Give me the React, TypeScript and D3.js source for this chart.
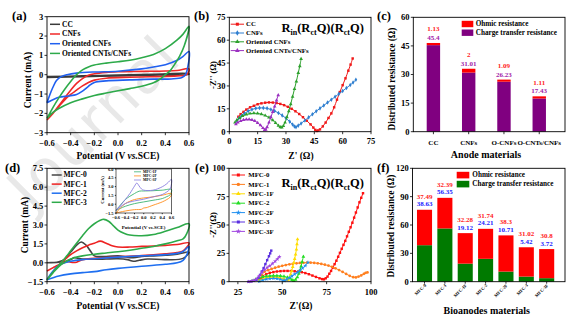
import React from 'react';
import * as d3 from 'd3';

type P = [number, number];
const FONT = '"Liberation Serif","Times New Roman",Times,serif';

// ---------------- (a) CV of anode materials ----------------
const aNames = ['CC', 'CNFs', 'Oriented CNFs', 'Oriented CNTs/CNFs'];
const aColors = ['#3a3a3a', '#f02828', '#2060f0', '#2daa4a'];
const aCC: P[] = [[-0.6, -0.1], [-0.3, -0.06], [0, -0.02], [0.3, 0.02], [0.6, 0.05], [0.6, 0.02], [0.3, -0.02], [0, -0.06], [-0.3, -0.1], [-0.6, -0.14]];
const aCNFs: P[] = [[-0.6, -2.34], [-0.55, -2.0], [-0.5, -1.6], [-0.45, -1.2], [-0.4, -0.8], [-0.35, -0.45], [-0.3, -0.2], [-0.25, -0.03], [-0.2, 0.05], [-0.1, 0.12], [0, 0.15], [0.2, 0.17], [0.4, 0.19], [0.5, 0.22], [0.6, 0.3],
  [0.58, 0.0], [0.5, -0.06], [0.3, -0.1], [0.1, -0.13], [-0.1, -0.18], [-0.2, -0.28], [-0.25, -0.4], [-0.3, -0.58], [-0.35, -0.8], [-0.4, -1.02], [-0.45, -1.3], [-0.5, -1.65], [-0.55, -2.0], [-0.6, -2.34]];
const aOCNFs: P[] = [[-0.6, -1.45], [-0.58, -1.1], [-0.55, -0.65], [-0.52, -0.3], [-0.48, -0.1], [-0.43, 0.0], [-0.35, 0.08], [-0.2, 0.14], [0, 0.18], [0.2, 0.3], [0.3, 0.4], [0.4, 0.52], [0.5, 0.75], [0.55, 0.95], [0.6, 1.2],
  [0.59, 0.4], [0.57, 0.0], [0.54, -0.15], [0.45, -0.22], [0.3, -0.23], [0.1, -0.27], [-0.1, -0.32], [-0.2, -0.4], [-0.25, -0.6], [-0.3, -0.85], [-0.35, -1.02], [-0.42, -1.1], [-0.5, -1.17], [-0.6, -1.45]];
const aOCNTs: P[] = [[-0.6, -2.26], [-0.55, -1.7], [-0.5, -1.2], [-0.45, -0.75], [-0.4, -0.35], [-0.35, 0.0], [-0.3, 0.25], [-0.25, 0.4], [-0.2, 0.5], [-0.1, 0.6], [0, 0.67], [0.1, 0.75], [0.2, 0.88], [0.3, 1.05], [0.4, 1.35], [0.5, 1.8], [0.55, 2.1], [0.6, 2.5],
  [0.56, 1.5], [0.52, 0.95], [0.48, 0.55], [0.44, 0.2], [0.4, 0.0], [0.35, -0.25], [0.3, -0.42], [0.2, -0.6], [0.1, -0.72], [0, -0.83], [-0.1, -0.95], [-0.2, -1.08], [-0.3, -1.25], [-0.4, -1.45], [-0.5, -1.75], [-0.55, -1.95], [-0.6, -2.26]];
const aXTicks = [-0.6, -0.4, -0.2, 0, 0.2, 0.4, 0.6];
const aYTicks = [-3, -2, -1, 0, 1, 2, 3];

// ---------------- (b) Nyquist of anode materials ----------------
const bNames = ['CC', 'CNFs', 'Oriented CNFs', 'Oriented CNTs/CNFs'];
const bColors = ['#f01818', '#2f7fd0', '#2ca02c', '#9b30c0'];
const bCC: P[] = [[4.8, 9.8], [6, 11.5], [7.5, 13], [9, 14.5], [11, 16], [13, 17], [15, 18], [17, 18.6], [19, 19], [21, 19.2], [23, 19.1], [25, 18.8], [27, 18.2], [29, 17.4], [31, 16.3], [33, 15], [35, 13.4], [37, 11.6], [39, 9.5], [41, 7.2], [43, 4.8], [44.5, 2.7], [45.5, 1.2], [46.3, 0.5], [47, 0.8], [48, 1.5], [49.5, 3.5], [51, 6], [52.5, 9], [54, 12], [55.5, 16], [57, 21], [58.5, 26], [60, 30.5], [61.5, 35], [63, 40], [64.2, 44], [65.3, 48]];
const bCNFs: P[] = [[4, 7.2], [5, 8.8], [6.5, 10.5], [8, 12], [10, 13.5], [12, 14.6], [14, 15.3], [16, 15.6], [18, 15.6], [20, 15.3], [22, 14.6], [24, 13.6], [26, 12.3], [28, 10.7], [30, 8.8], [32, 6.6], [33.5, 4.7], [34.5, 3.4], [35.3, 3], [36.5, 4], [38, 5.4], [40, 7.4], [42, 9.4], [44, 11.4], [46, 13.4], [48, 15.3], [50, 17.2], [52, 19.1], [54, 21], [56, 22.9], [58, 24.8], [60, 26.7], [62, 28.6], [64, 30.6], [65.5, 32.2], [67, 34]];
const bOCNFs: P[] = [[3, 6], [4, 7.5], [5.5, 9], [7, 10.3], [9, 11.3], [11, 11.9], [13, 12.1], [15, 12], [17, 11.5], [19, 10.6], [21, 9.3], [23, 7.6], [24.5, 5.8], [26, 4], [27, 3], [27.8, 2.8], [28.6, 3.8], [29.5, 6], [30.5, 9.5], [31.5, 13.5], [32.5, 18], [33.5, 23], [34.5, 28], [35.5, 33], [36.5, 38.5], [37.3, 43], [38, 47.7]];
const bOCNTs: P[] = [[3.5, 5], [4.5, 6], [6, 7], [7.5, 7.7], [9, 8], [10.5, 8.1], [12, 7.8], [13.5, 7], [15, 5.8], [16.5, 4.2], [17.8, 2.4], [18.7, 1.2], [19.3, 1.4], [20, 3], [21, 6], [22, 9.5], [23, 13], [24, 16.5], [25, 20.5], [25.9, 24]];
const bTicks = [0, 15, 30, 45, 60, 75];

// ---------------- (c) resistance of anode materials ----------------
const cCategories = ['CC', 'CNFs', 'O-CNFs', 'O-CNTs/CNFs'];
const cOhmic = [1.13, 2, 1.09, 1.11];
const cChargeTransfer = [45.4, 31.01, 26.23, 17.43];
const cOhmicLabels = ['1.13', '2', '1.09', '1.11'];
const cCtLabels = ['45.4', '31.01', '26.23', '17.43'];
const cYTicks = [0, 15, 30, 45, 60];

// ---------------- (d) CV of bioanodes ----------------
const dNames = ['MFC-0', 'MFC-1', 'MFC-2', 'MFC-3'];
const dColors = ['#444444', '#ee2222', '#1f6ff0', '#2daa4a'];
const dMFC0: P[] = [[-0.6, 0.0], [-0.5, 0.08], [-0.45, 0.3], [-0.4, 0.85], [-0.35, 1.4], [-0.31, 1.65], [-0.27, 1.4], [-0.23, 0.9], [-0.2, 0.55], [-0.1, 0.5], [0, 0.55], [0.05, 0.5], [0.1, 0.4], [0.15, 0.42], [0.2, 0.5], [0.3, 0.55], [0.4, 0.6], [0.5, 0.68], [0.6, 0.85],
  [0.55, 0.35], [0.4, 0.25], [0.25, 0.3], [0.18, 0.2], [0.13, 0.12], [0.08, 0.25], [0, 0.32], [-0.1, 0.3], [-0.2, 0.28], [-0.3, 0.3], [-0.35, 0.38], [-0.37, 0.42], [-0.39, 0.3], [-0.45, 0.1], [-0.5, 0.05], [-0.6, 0.0]];
const dMFC1: P[] = [[-0.6, -0.65], [-0.55, -0.4], [-0.5, -0.15], [-0.45, 0.25], [-0.4, 0.65], [-0.35, 0.95], [-0.3, 1.2], [-0.25, 1.4], [-0.2, 1.55], [-0.15, 1.72], [-0.1, 1.55], [-0.05, 1.35], [0, 1.25], [0.1, 1.25], [0.2, 1.3], [0.3, 1.33], [0.4, 1.38], [0.5, 1.45], [0.6, 1.58],
  [0.55, 0.95], [0.5, 0.82], [0.4, 0.72], [0.2, 0.57], [0, 0.47], [-0.2, 0.35], [-0.3, 0.25], [-0.35, 0.05], [-0.38, 0.02], [-0.42, 0.08], [-0.5, -0.15], [-0.6, -0.65]];
const dMFC2: P[] = [[-0.6, -1.35], [-0.57, -0.9], [-0.53, -0.45], [-0.5, -0.2], [-0.45, 0.0], [-0.4, 0.12], [-0.3, 0.25], [-0.2, 0.32], [0, 0.45], [0.2, 0.55], [0.4, 0.65], [0.5, 0.75], [0.55, 0.9], [0.6, 1.3],
  [0.58, 0.6], [0.55, 0.2], [0.5, 0.0], [0.4, -0.12], [0.2, -0.27], [0, -0.44], [-0.1, -0.55], [-0.2, -0.7], [-0.3, -0.78], [-0.4, -0.88], [-0.5, -1.05], [-0.6, -1.35]];
const dMFC3: P[] = [[-0.6, -1.35], [-0.55, -0.75], [-0.5, -0.2], [-0.45, 0.35], [-0.4, 0.95], [-0.35, 1.55], [-0.3, 2.15], [-0.25, 2.7], [-0.2, 3.1], [-0.15, 3.38], [-0.12, 3.45], [-0.08, 3.3], [-0.04, 2.95], [0, 2.6], [0.05, 2.35], [0.1, 2.2], [0.2, 2.15], [0.3, 2.25], [0.4, 2.5], [0.5, 2.8], [0.6, 3.1],
  [0.58, 2.3], [0.55, 1.9], [0.5, 1.75], [0.4, 1.5], [0.3, 1.3], [0.2, 1.15], [0.1, 1.0], [0, 0.88], [-0.1, 0.78], [-0.2, 0.68], [-0.3, 0.55], [-0.4, 0.3], [-0.45, 0.05], [-0.5, -0.3], [-0.55, -0.8], [-0.6, -1.35]];
const dXTicks = [-0.6, -0.4, -0.2, 0, 0.2, 0.4, 0.6];
const dYTicks = [-1.5, 0, 1.5, 3, 4.5, 6, 7.5];

// inset of (d)
const insNames = ['MFC-1F', 'MFC-2F', 'MFC-3F'];
const insColors = ['#3cb371', '#ff8c1a', '#8a7fe0'];
const ins1F: P[] = [[-0.6, -1.04], [-0.5, -0.1], [-0.4, 0.79], [-0.3, 1.35], [-0.2, 1.82], [-0.1, 2.22], [0, 2.25], [0.2, 2.3], [0.4, 2.39], [0.6, 2.5],
  [0.57, 1.6], [0.5, 1.3], [0.4, 0.96], [0.2, 0.67], [0, 0.39], [-0.2, 0.1], [-0.4, -0.36], [-0.6, -1.04]];
const ins2F: P[] = [[-0.6, -1.5], [-0.5, -0.6], [-0.4, 0.1], [-0.3, 0.5], [-0.2, 0.79], [0, 1.07], [0.2, 1.25], [0.4, 1.53], [0.6, 1.82],
  [0.57, 1.2], [0.5, 0.8], [0.4, 0.39], [0.2, -0.18], [0.05, -0.6], [0, -0.64], [-0.05, -0.87], [-0.2, -0.93], [-0.4, -1.16], [-0.6, -1.5]];
const ins3F: P[] = [[-0.6, -1.04], [-0.5, -0.18], [-0.4, 0.79], [-0.3, 1.82], [-0.2, 3.08], [-0.15, 3.6], [-0.1, 3.1], [-0.05, 2.6], [0, 2.39], [0.2, 2.39], [0.4, 2.97], [0.5, 3.5], [0.6, 4.22],
  [0.57, 2.6], [0.5, 2.1], [0.4, 1.65], [0.2, 1.25], [0, 0.85], [-0.2, 0.56], [-0.4, 0.1], [-0.6, -1.04]];
const insXTicks = [-0.6, -0.4, -0.2, 0, 0.2, 0.4, 0.6];
const insYTicks = [-1.5, 0, 1.5, 3, 4.5, 6];

// ---------------- (e) Nyquist of bioanodes ----------------
const eNames = ['MFC-0', 'MFC-1', 'MFC-1F', 'MFC-2', 'MFC-2F', 'MFC-3', 'MFC-3F'];
const eColors = ['#ff1010', '#ff7f1e', '#ffdd00', '#22dd22', '#2090f0', '#5a2fe0', '#a048e0'];
const eMFC0: P[] = [[37.9, 3], [39, 5], [41, 6.7], [43, 7.8], [45, 8.5], [47, 9], [49, 9.3], [51, 9.5], [53, 9.5], [55, 9.4], [57, 9.2], [59, 8.9], [61, 8.4], [63, 7.6], [65, 6.6], [67, 5.4], [69, 4.2], [71, 3], [72.5, 2.3], [73.5, 2.1], [74.5, 3], [75.5, 4.5], [76.5, 7], [77.5, 9.5], [78.5, 12.5], [79.5, 15.5], [80.5, 18.5], [81.5, 22], [82.5, 25.5], [83.5, 29], [84.5, 32.5], [85.5, 36], [86.5, 40], [87.5, 44], [88.5, 48], [89.5, 52], [90.5, 56.5], [91.5, 61], [92.5, 65.5], [93.5, 70], [94.5, 74], [95.5, 78]];
const eMFC1: P[] = [[37, 2], [38.5, 5.5], [40, 8.8], [42, 10.2], [44, 11.3], [46, 12.3], [48, 13.2], [50, 14], [52, 14.7], [54, 15.3], [56, 15.8], [58, 16.2], [60, 16.5], [62, 16.7], [64, 16.8], [66, 16.8], [68, 16.6], [70, 16.2], [72, 15.7], [74, 15], [76, 14.2], [78, 13.1], [80, 11.8], [82, 10.3], [84, 8.6], [86, 6.8], [88, 5.2], [90, 4], [91.5, 3.8], [93, 4.5], [94.5, 5.5], [96, 7], [97, 7.8], [98, 8.2]];
const eMFC1F: P[] = [[37, 1], [39, 2.5], [41, 3.5], [43, 4], [45, 4.2], [47, 4], [49, 3.4], [51, 2.5], [52.5, 1.6], [53.3, 1.5], [54, 3.5], [54.7, 6.5], [55.3, 9.5], [55.9, 13], [56.5, 16.5], [57, 20], [57.5, 24], [58, 28.5], [58.3, 33], [58.6, 37.4]];
const eMFC2: P[] = [[33, 0.6], [35, 2], [37, 3.2], [39, 4.2], [41, 4.8], [43, 5.2], [45, 5.3], [47, 5.3], [49, 5.1], [51, 4.6], [53, 3.8], [54.5, 2.8], [55.5, 1.6], [56.5, 0.9], [57.5, 1.8], [58.5, 4], [59.3, 7], [60, 10], [60.6, 13.5], [61.2, 17.5], [61.9, 22]];
const eMFC2F: P[] = [[37, 0.2], [39, 1.3], [41, 2.2], [43, 2.7], [45, 2.9], [47, 2.7], [49, 2], [50.5, 1.2], [51.3, 0.9], [52.5, 2], [54, 3.5], [55.5, 5], [57, 6.6], [58.5, 8.2], [60, 10], [61.5, 12], [63, 14.2], [64.5, 17]];
const eMFC3: P[] = [[31, 0], [32.5, 0.3], [34, 0.8], [35.5, 1.8], [36.5, 3.5], [37.5, 6], [38.5, 9], [39.5, 12], [40.5, 15.5], [41.5, 19], [42.5, 22.5], [43.2, 25], [43.8, 27.4]];
const eMFC3F: P[] = [[31, 0], [32.5, 0.4], [34, 1], [35.5, 2.5], [37, 5], [38.5, 8.2], [40, 10.5], [41.5, 12.5], [43, 14], [44.5, 16], [46, 18], [47.3, 20], [48.4, 22]];
const eXTicks = [25, 50, 75, 100];
const eYTicks = [0, 25, 50, 75, 100];

// ---------------- (f) resistance of bioanodes ----------------
const fCategories = ['MFC-0', 'MFC-1', 'MFC-1F', 'MFC-2', 'MFC-2F', 'MFC-3', 'MFC-3F'];
const fOhmic = [37.49, 32.39, 32.28, 31.74, 38.3, 31.02, 30.8];
const fChargeTransfer = [38.63, 56.35, 19.12, 24.21, 10.71, 5.42, 3.72];
const fOhmicLabels = ['37.49', '32.39', '32.28', '31.74', '38.3', '31.02', '30.8'];
const fCtLabels = ['38.63', '56.35', '19.12', '24.21', '10.71', '5.42', '3.72'];
const fYTicks = [0, 30, 60, 90, 120];

// ---------------- helpers ----------------
type Box = { l: number; r: number; t: number; b: number };
const A: Box = { l: 47, r: 189, t: 16.7, b: 132.7 };
const B: Box = { l: 229.3, r: 371, t: 17.3, b: 131.7 };
const C: Box = { l: 413.3, r: 565, t: 17.3, b: 131.7 };
const D: Box = { l: 47, r: 189, t: 168.3, b: 281.7 };
const E: Box = { l: 229, r: 371, t: 168.3, b: 281.7 };
const F: Box = { l: 412.5, r: 565, t: 168.3, b: 281.7 };
const INS: Box = { l: 116, r: 171.5, t: 169, b: 213 };

function Frame({ box, sw = 0.9 }: { box: Box; sw?: number }) {
  return <rect x={box.l} y={box.t} width={box.r - box.l} height={box.b - box.t} fill="none" stroke="#000" strokeWidth={sw} />;
}

function YAxis({ box, y, ticks, fmt, fs = 8.5, len = 2.5 }: any) {
  return (
    <g>
      {ticks.map((t: number) => (
        <g key={t}>
          <line x1={box.l} x2={box.l - len} y1={y(t)} y2={y(t)} stroke="#000" strokeWidth={0.8} />
          <text x={box.l - len - 1.2} y={y(t)} dy="0.34em" textAnchor="end" fontSize={fs} fontWeight="bold">{fmt(t)}</text>
        </g>
      ))}
    </g>
  );
}

function XAxis({ box, x, ticks, fmt, fs = 8.5, len = 2.5, dy = 12.5 }: any) {
  return (
    <g>
      {ticks.map((t: number) => (
        <g key={t}>
          <line x1={x(t)} x2={x(t)} y1={box.b} y2={box.b + len} stroke="#000" strokeWidth={0.8} />
          <text x={x(t)} y={box.b + dy} textAnchor="middle" fontSize={fs} fontWeight="bold">{fmt(t)}</text>
        </g>
      ))}
    </g>
  );
}

function YLabel({ x, y, fs = 9.5, children }: any) {
  return <text transform={`translate(${x},${y}) rotate(-90)`} textAnchor="middle" fontSize={fs} fontWeight="bold">{children}</text>;
}

function Circuit({ x, y }: { x: number; y: number }) {
  return (
    <text x={x} y={y} fontSize={12.5} fontWeight="bold">
      R<tspan fontSize={8} dy={2.5}>in</tspan><tspan dy={-2.5}>(R</tspan><tspan fontSize={8} dy={2.5}>ct</tspan><tspan dy={-2.5}>Q)(R</tspan><tspan fontSize={8} dy={2.5}>ct</tspan><tspan dy={-2.5}>Q)</tspan>
    </text>
  );
}

const fmt1 = d3.format('.1f');
const fmt0 = d3.format('d');

function CVLines({ series, colors, x, y, sw = 1.5 }: any) {
  const line = d3.line<P>().x(d => x(d[0])).y(d => y(d[1])).curve(d3.curveCatmullRom.alpha(0.5));
  return <g>{series.map((s: P[], i: number) => <path key={i} d={line(s) || ''} fill="none" stroke={colors[i]} strokeWidth={sw} strokeLinejoin="round" />)}</g>;
}

function MarkerLines({ series, colors, symbols, x, y, size = 7 }: any) {
  const line = d3.line<P>().x(d => x(d[0])).y(d => y(d[1])).curve(d3.curveCatmullRom.alpha(0.5));
  return (
    <g>
      {series.map((s: P[], i: number) => {
        const sym = d3.symbol().type(symbols[i]).size(size)() || '';
        return (
          <g key={i}>
            <path d={line(s) || ''} fill="none" stroke={colors[i]} strokeWidth={1} />
            {s.map((p, j) => <path key={j} d={sym} transform={`translate(${x(p[0])},${y(p[1])})`} fill={colors[i]} />)}
          </g>
        );
      })}
    </g>
  );
}

function LineLegend({ names, colors, x0, x1, tx, y0, dy, fs = 7.5, symbols, sw = 1.5 }: any) {
  return (
    <g>
      {names.map((n: string, i: number) => {
        const yy = y0 + i * dy;
        const sym = symbols ? d3.symbol().type(symbols[i]).size(9)() : null;
        return (
          <g key={n}>
            <line x1={x0} x2={x1} y1={yy} y2={yy} stroke={colors[i]} strokeWidth={sw} />
            {sym && <path d={sym} transform={`translate(${(x0 + x1) / 2},${yy})`} fill={colors[i]} />}
            <text x={tx} y={yy} dy="0.33em" fontSize={fs} fontWeight="bold">{n}</text>
          </g>
        );
      })}
    </g>
  );
}

function PanelLetter({ x, y, t }: any) {
  return <text x={x} y={y} fontSize={12.5} fontWeight="bold">{t}</text>;
}

const Potential = () => (<>Potential (V <tspan fontStyle="italic">vs.</tspan>SCE)</>);

export default function App() {
  const aX = d3.scaleLinear().domain([-0.6, 0.6]).range([A.l, A.r]);
  const aY = d3.scaleLinear().domain([-3, 3]).range([A.b, A.t]);
  const bX = d3.scaleLinear().domain([0, 75]).range([B.l, B.r]);
  const bY = d3.scaleLinear().domain([0, 75]).range([B.b, B.t]);
  const cX = d3.scaleLinear().domain([0.43, 4.73]).range([C.l, C.r]);
  const cY = d3.scaleLinear().domain([0, 60]).range([C.b, C.t]);
  const dX = d3.scaleLinear().domain([-0.6, 0.6]).range([D.l, D.r]);
  const dY = d3.scaleLinear().domain([-1.5, 7.5]).range([D.b, D.t]);
  const iX = d3.scaleLinear().domain([-0.6, 0.6]).range([INS.l, INS.r]);
  const iY = d3.scaleLinear().domain([-1.5, 6]).range([INS.b, INS.t]);
  const eX = d3.scaleLinear().domain([20, 100]).range([E.l, E.r]);
  const eY = d3.scaleLinear().domain([0, 100]).range([E.b, E.t]);
  const fX = d3.scaleLinear().domain([-0.59, 6.9]).range([F.l, F.r]);
  const fY = d3.scaleLinear().domain([0, 120]).range([F.b, F.t]);

  const cBW = (cX(2) - cX(1)) * 0.38;
  const fBW = (fX(1) - fX(0)) * 0.74;

  const bSymbols = [d3.symbolSquare, d3.symbolDiamond, d3.symbolTriangle, d3.symbolTriangle];
  const eSymbols = [d3.symbolSquare, d3.symbolCircle, d3.symbolTriangle, d3.symbolTriangle, d3.symbolStar, d3.symbolSquare, d3.symbolStar];

  return (
    <svg width={576} height={323} viewBox="0 0 576 323" style={{ position: 'absolute', left: 0, top: 0, display: 'block', background: '#fff' }} fontFamily={FONT}>
      <rect x={0} y={0} width={576} height={323} fill="#fff" />
      {/* watermark */}
      <text transform="translate(32,212) rotate(-45)" fontFamily='"DejaVu Sans",sans-serif' fontSize={58} fill="#e8e8e8" letterSpacing={2}>Journal</text>

      {/* ===== (a) ===== */}
      <g>
        <CVLines series={[aCC, aCNFs, aOCNFs, aOCNTs]} colors={aColors} x={aX} y={aY} sw={1.6} />
        <Frame box={A} />
        <YAxis box={A} y={aY} ticks={aYTicks} fmt={fmt0} />
        <XAxis box={A} x={aX} ticks={aXTicks} fmt={fmt1} dy={12.8} />
        <YLabel x={31} y={80}>Current (mA)</YLabel>
        <text x={118} y={158.5} textAnchor="middle" fontSize={9.5} fontWeight="bold"><Potential /></text>
        <LineLegend names={aNames} colors={aColors} x0={50} x1={60} tx={62} y0={24.3} dy={9.7} fs={7.5} />
        <PanelLetter x={12} y={20} t="(a)" />
      </g>

      {/* ===== (b) ===== */}
      <g>
        <MarkerLines series={[bCC, bCNFs, bOCNFs, bOCNTs]} colors={bColors} symbols={bSymbols} x={bX} y={bY} size={6} />
        <Frame box={B} />
        <YAxis box={B} y={bY} ticks={bTicks} fmt={fmt0} />
        <XAxis box={B} x={bX} ticks={bTicks} fmt={fmt0} dy={12.3} />
        <YLabel x={216} y={75} fs={8.5}>-Z'' (Ω)</YLabel>
        <text x={301} y={159} textAnchor="middle" fontSize={9.5} fontWeight="bold">Z' (Ω)</text>
        <LineLegend names={bNames} colors={bColors} symbols={bSymbols} x0={230.7} x1={244} tx={246} y0={24.2} dy={8.8} fs={6.8} sw={1} />
        <Circuit x={281.5} y={32} />
        <PanelLetter x={194} y={20} t="(b)" />
      </g>

      {/* ===== (c) ===== */}
      <g>
        {cCategories.map((c, i) => {
          const xc = cX(i + 1);
          const top = cY(cChargeTransfer[i] + cOhmic[i]);
          return (
            <g key={c}>
              <rect x={xc - cBW / 2} y={cY(cChargeTransfer[i])} width={cBW} height={cY(0) - cY(cChargeTransfer[i])} fill="#800080" />
              <rect x={xc - cBW / 2} y={top} width={cBW} height={cY(cChargeTransfer[i]) - top} fill="#ff0000" />
              <text x={xc} y={top - 3} textAnchor="middle" fontSize={7} fontWeight="bold" fill="#a020a8">{cCtLabels[i]}</text>
              <text x={xc} y={top - 11.5} textAnchor="middle" fontSize={7} fontWeight="bold" fill="#ff2020">{cOhmicLabels[i]}</text>
              <text x={xc} y={144.5} textAnchor="middle" fontSize={7} fontWeight="bold">{c}</text>
              <line x1={xc} x2={xc} y1={C.b} y2={C.b + 2.5} stroke="#000" strokeWidth={0.8} />
            </g>
          );
        })}
        <Frame box={C} />
        <YAxis box={C} y={cY} ticks={cYTicks} fmt={fmt0} />
        <YLabel x={394.5} y={79} fs={9.3}>Distributed resistance (Ω)</YLabel>
        <text x={486} y={157.5} textAnchor="middle" fontSize={10} fontWeight="bold">Anode materials</text>
        <rect x={461.7} y={20.8} width={11.6} height={6.4} fill="#ff0000" />
        <rect x={461.7} y={29.5} width={11.6} height={6.4} fill="#800080" />
        <text x={475.7} y={24} dy="0.33em" fontSize={7.2} fontWeight="bold">Ohmic resistance</text>
        <text x={475.7} y={32.7} dy="0.33em" fontSize={7.2} fontWeight="bold">Charge transfer resistance</text>
        <PanelLetter x={377} y={20} t="(c)" />
      </g>

      {/* ===== (d) ===== */}
      <g>
        <CVLines series={[dMFC0, dMFC1, dMFC2, dMFC3]} colors={dColors} x={dX} y={dY} sw={1.6} />
        <Frame box={D} />
        <YAxis box={D} y={dY} ticks={dYTicks} fmt={fmt1} />
        <XAxis box={D} x={dX} ticks={dXTicks} fmt={fmt1} dy={13} />
        <YLabel x={28} y={225}>Current (mA)</YLabel>
        <text x={118} y={309} textAnchor="middle" fontSize={9.5} fontWeight="bold"><Potential /></text>
        <LineLegend names={dNames} colors={dColors} x0={51.7} x1={61.7} tx={63.5} y0={175} dy={9.1} fs={7.5} />
        <rect x={INS.l} y={INS.t} width={INS.r - INS.l} height={INS.b - INS.t} fill="#fff" />
        <CVLines series={[ins1F, ins2F, ins3F]} colors={insColors} x={iX} y={iY} sw={0.9} />
        <Frame box={INS} sw={0.6} />
        <YAxis box={INS} y={iY} ticks={insYTicks} fmt={fmt1} fs={4.5} len={1.2} />
        <XAxis box={INS} x={iX} ticks={insXTicks} fmt={fmt1} fs={4.5} len={1.2} dy={5.8} />
        <YLabel x={103.5} y={190} fs={4.6}>Current (mA)</YLabel>
        <text x={143.5} y={228.5} textAnchor="middle" fontSize={5} fontWeight="bold"><Potential /></text>
        <LineLegend names={insNames} colors={insColors} x0={134} x1={141} tx={143} y0={171.8} dy={4.1} fs={3.7} sw={0.8} />
        <PanelLetter x={5} y={172} t="(d)" />
      </g>

      {/* ===== (e) ===== */}
      <g>
        <MarkerLines series={[eMFC0, eMFC1, eMFC1F, eMFC2, eMFC2F, eMFC3, eMFC3F]} colors={eColors} symbols={eSymbols} x={eX} y={eY} size={6} />
        <Frame box={E} />
        <YAxis box={E} y={eY} ticks={eYTicks} fmt={fmt0} />
        <XAxis box={E} x={eX} ticks={eXTicks} fmt={fmt0} dy={13} />
        <YLabel x={216} y={225} fs={8.5}>-Z''(Ω)</YLabel>
        <text x={301} y={309} textAnchor="middle" fontSize={9.5} fontWeight="bold">Z'(Ω)</text>
        <LineLegend names={eNames} colors={eColors} symbols={eSymbols} x0={231.7} x1={245} tx={248.3} y0={175} dy={9.4} fs={6.8} sw={1} />
        <Circuit x={281.5} y={187} />
        <PanelLetter x={195} y={172} t="(e)" />
      </g>

      {/* ===== (f) ===== */}
      <g>
        {fCategories.map((c, i) => {
          const xc = fX(i);
          const top = fY(fChargeTransfer[i] + fOhmic[i]);
          return (
            <g key={c}>
              <rect x={xc - fBW / 2} y={fY(fChargeTransfer[i])} width={fBW} height={fY(0) - fY(fChargeTransfer[i])} fill="#007a00" />
              <rect x={xc - fBW / 2} y={top} width={fBW} height={fY(fChargeTransfer[i]) - top} fill="#ff0000" />
              <text x={xc} y={top - 3.5} textAnchor="middle" fontSize={7} fontWeight="bold" fill="#2020ff">{fCtLabels[i]}</text>
              <text x={xc} y={top - 11} textAnchor="middle" fontSize={7} fontWeight="bold" fill="#ff2020">{fOhmicLabels[i]}</text>
              <line x1={xc} x2={xc} y1={F.b} y2={F.b + 2} stroke="#000" strokeWidth={0.8} />
              <text transform={`translate(${xc + 2},${F.b + 4}) rotate(-45)`} textAnchor="end" fontSize={4.5} fontWeight="bold">{c}</text>
            </g>
          );
        })}
        <Frame box={F} />
        <YAxis box={F} y={fY} ticks={fYTicks} fmt={fmt0} />
        <YLabel x={393.5} y={226} fs={9.3}>Distributed resistance (Ω)</YLabel>
        <text x={486.7} y={314} textAnchor="middle" fontSize={10} fontWeight="bold">Bioanodes materials</text>
        <rect x={456.7} y={171.8} width={12.6} height={6.6} fill="#ff0000" />
        <rect x={456.7} y={180.8} width={12.6} height={6.6} fill="#007a00" />
        <text x={472.3} y={175} dy="0.33em" fontSize={7.2} fontWeight="bold">Ohmic resistance</text>
        <text x={472.3} y={184} dy="0.33em" fontSize={7.2} fontWeight="bold">Charge transfer resistance</text>
        <PanelLetter x={377} y={172} t="(f)" />
      </g>
    </svg>
  );
}
